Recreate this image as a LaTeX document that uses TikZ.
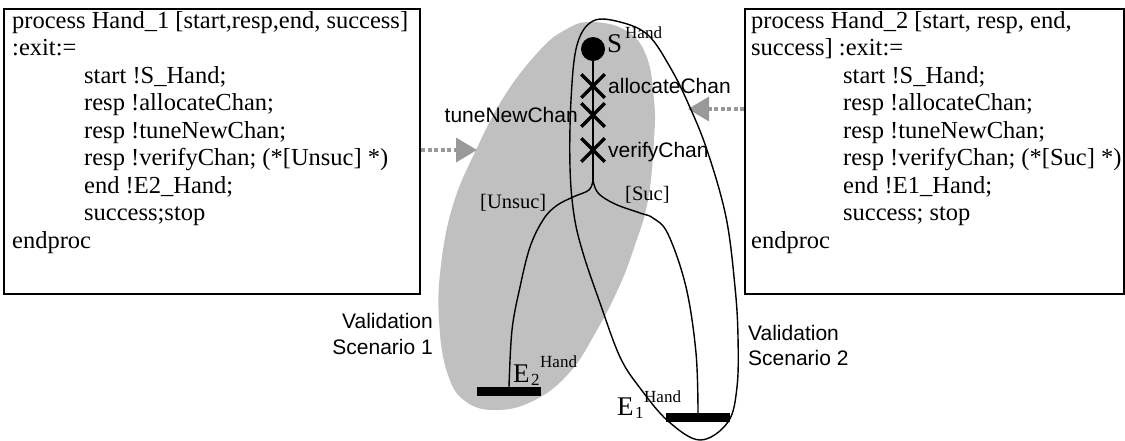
\documentclass[tikz,border=0pt]{standalone}
\usepackage{fontspec}
\setmainfont{Liberation Serif}
\newfontfamily\sansf{Liberation Sans}
\usetikzlibrary{arrows.meta,shapes.misc}
\definecolor{regiongray}{HTML}{C0C0C0}
\definecolor{arrowgray}{HTML}{999999}
\begin{document}
\begin{tikzpicture}[x=1pt,y=-1pt,
  box/.style={draw, line width=2pt, inner sep=0pt, anchor=north west},
  code/.style={anchor=base west, inner sep=0pt, font=\fontsize{24.5}{24.5}\selectfont},
  lbl/.style={inner sep=0pt, font=\sansf\fontsize{21}{21}\selectfont},
  cond/.style={anchor=base west, inner sep=0pt, font=\fontsize{20.5}{20.5}\selectfont},
  big/.style={anchor=base west, inner sep=0pt, font=\fontsize{27}{27}\selectfont},
  small/.style={anchor=base west, inner sep=0pt, font=\fontsize{17}{17}\selectfont},
  curve/.style={line width=1.4pt},
  xmark/.style={cross out, draw, line width=3.5pt, minimum size=20pt, inner sep=0pt},
  bar/.style={fill=black, minimum width=64pt, minimum height=9pt, inner sep=0pt},
  dotarrow/.style={draw=arrowgray, line width=3.5pt, dash pattern=on 4pt off 2.5pt,
     -{Triangle[length=21pt,width=24pt,fill=arrowgray]}}
]
\useasboundingbox (0,0) rectangle (1125,440);

% gray validation scenario 1 region
\fill[regiongray] plot[smooth cycle, tension=0.7] coordinates {
  (590,22) (625,30) (646,55) (654,100) (654,140) (648,200) (635,245) (619,287)
  (597,330) (570,372) (535,400) (497,410) (465,401) (447,372) (439,320)
  (441,265) (453,205) (476,150) (505,95) (540,50) (565,30)};

% boxes
\node[box, minimum width=416pt, minimum height=285pt] (b1) at (3,8) {};
\node[box, minimum width=379pt, minimum height=285pt] (b2) at (744,8) {};

% left code
\node[code] (l1) at (12,28) {process Hand\_1 [start,resp,end, success]};
\node[code] (l2) at (12,55.5) {:exit:=};
\node[code] (l3) at (84,83) {start !S\_Hand;};
\node[code] (l4) at (84,110.5) {resp !allocateChan;};
\node[code] (l5) at (84,138) {resp !tuneNewChan;};
\node[code] (l6) at (84,165.5) {resp !verifyChan; (*[Unsuc] *)};
\node[code] (l7) at (84,193) {end !E2\_Hand;};
\node[code] (l8) at (84,220.5) {success;stop};
\node[code] (l9) at (12,248) {endproc};

% right code
\node[code] (r1) at (751,28) {process Hand\_2 [start, resp, end,};
\node[code] (r2) at (751,55.5) {success] :exit:=};
\node[code] (r3) at (843,83) {start !S\_Hand;};
\node[code] (r4) at (843,110.5) {resp !allocateChan;};
\node[code] (r5) at (843,138) {resp !tuneNewChan;};
\node[code] (r6) at (843,165.5) {resp !verifyChan; (*[Suc] *)};
\node[code] (r7) at (843,193) {end !E1\_Hand;};
\node[code] (r8) at (843,220.5) {success; stop};
\node[code] (r9) at (751,248) {endproc};

% arrows
\coordinate (a1) at (477,150);
\coordinate (a2) at (688,109);
\draw[dotarrow] (b1.east |- a1) -- (a1);
\draw[dotarrow] (b2.west |- a2) -- (a2);

% scenario 2 loop
\draw[curve] plot[smooth cycle, tension=0.6] coordinates {
  (593,21) (620,22) (648,35) (670,67) (688,103) (707,150) (726,217) (735,287)
  (738,337) (737,387) (728,422) (700,440) (668,421) (640,388) (620,357)
  (600,303) (583,253) (574,215) (570,167) (571,100) (577,45)};

% start, actions, ends
\node[circle, fill=black, minimum size=24pt, inner sep=0pt] (s) at (593,49) {};
\coordinate (br) at (593,180);
\node[bar] (e2) at (509,391.5) {};
\node[bar] (e1) at (698,417.5) {};
\draw[curve] (s) -- (br);
\node[xmark] (x1) at (593,86) {};
\node[xmark] (x2) at (593,115) {};
\node[xmark] (x3) at (593,150) {};

\draw[curve] plot[smooth, tension=0.6] coordinates {
  (br) (589,190) (573,197) (556,206) (543,220) (530,247) (520,287) (512,330) (e2.north)};
\draw[curve] plot[smooth, tension=0.6] coordinates {
  (br) (598,193) (615,204) (640,213) (653,218) (668,234) (686,287) (696,353) (e1.north)};

% labels
\node[big] (st) at (607,52) {S};
\node[small] (sth) at (625,38) {Hand};
\node[lbl, anchor=base west] (ac) at (608,93) {allocateChan};
\node[lbl, anchor=base east] (tn) at (578,122) {tuneNewChan};
\node[lbl, anchor=base west] (vc) at (608,157) {verifyChan};
\node[cond] (un) at (480,208) {[Unsuc]};
\node[cond] (su) at (625,200) {[Suc]};

\node[big] (e2l) at (513,382) {E};
\node[small] (e2s) at (531,385) {2};
\node[small] (e2h) at (540,367) {Hand};
\node[big] (e1l) at (617,415) {E};
\node[small] (e1s) at (635,418) {1};
\node[small] (e1h) at (644,402) {Hand};

\node[lbl, anchor=base east] (v1a) at (433,328) {Validation};
\node[lbl, anchor=base east] (v1b) at (433,354) {Scenario 1};
\node[lbl, anchor=base west] (v2a) at (748,340) {Validation};
\node[lbl, anchor=base west] (v2b) at (748,365) {Scenario 2};
\end{tikzpicture}
\end{document}
